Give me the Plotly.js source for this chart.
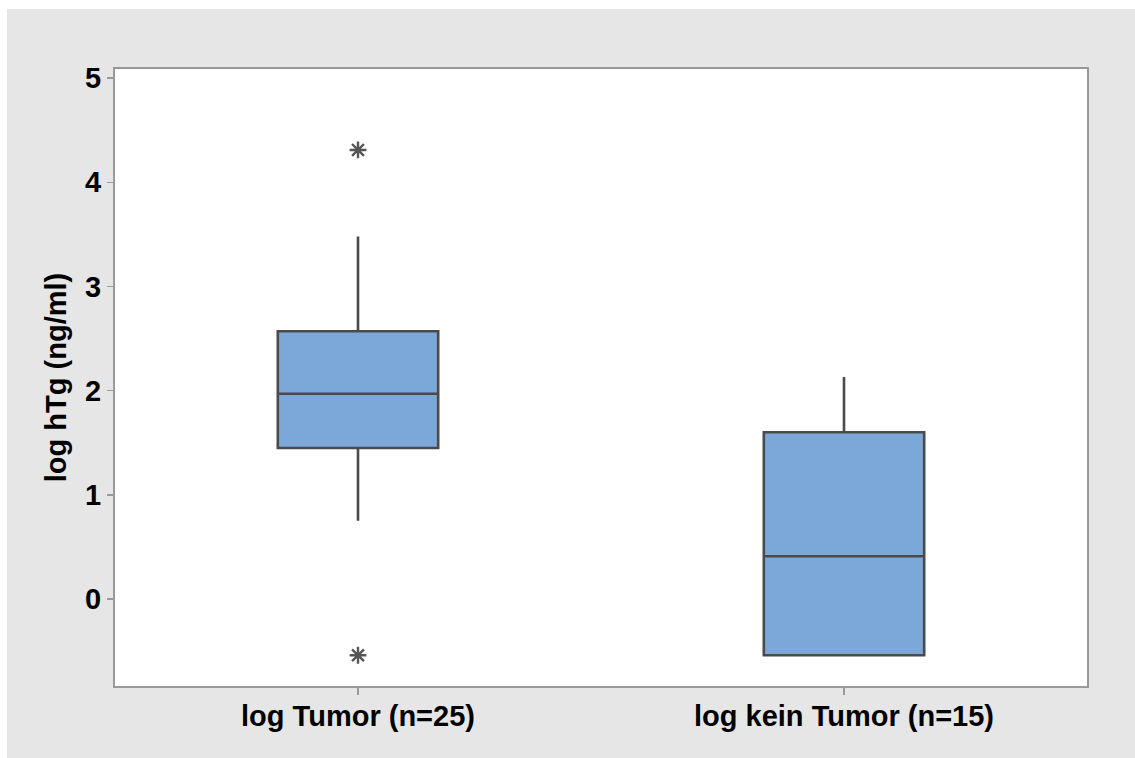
<!DOCTYPE html>
<html>
<head>
<meta charset="utf-8">
<script src="https://cdn.plot.ly/plotly-3.0.1.min.js"></script>
<style>
  html, body { margin: 0; padding: 0; background: #ffffff; }
  #chart { position: absolute; left: 7px; top: 9px; width: 1128px; height: 749px; }
</style>
</head>
<body>
<div id="chart"></div>
<script>
// Group labels
const groups = ['log Tumor (n=25)', 'log kein Tumor (n=15)'];

// Box statistics per group (log hTg, ng/ml)
const q1Values = [1.45, -0.54];
const medianValues = [1.97, 0.41];
const q3Values = [2.57, 1.60];
const lowerWhisker = [0.75, -0.54];
const upperWhisker = [3.48, 2.13];

// Outliers
const outlierGroups = ['log Tumor (n=25)', 'log Tumor (n=25)'];
const outlierValues = [4.31, -0.54];

const yTicks = [0, 1, 2, 3, 4, 5];

const fontFamily = '"Liberation Sans", Arial, sans-serif';
const labelFont = { family: fontFamily, size: 29, color: '#000000', weight: 'bold' };

const boxTrace = {
  type: 'box',
  x: groups,
  q1: q1Values,
  median: medianValues,
  q3: q3Values,
  lowerfence: lowerWhisker,
  upperfence: upperWhisker,
  boxpoints: false,
  width: 0.33,
  whiskerwidth: 0,
  fillcolor: '#7ca7d9',
  line: { color: '#4a4a4a', width: 2.6 },
  hoverinfo: 'skip',
  showlegend: false
};

const outlierTrace = {
  type: 'scatter',
  mode: 'markers',
  x: outlierGroups,
  y: outlierValues,
  marker: {
    symbol: 'asterisk-open',
    size: 14,
    color: '#555555',
    line: { color: '#555555', width: 2.4 }
  },
  hoverinfo: 'skip',
  showlegend: false
};

const layout = {
  width: 1128,
  height: 749,
  paper_bgcolor: '#e6e6e6',
  plot_bgcolor: '#ffffff',
  margin: { l: 108, r: 48, t: 60, b: 72 },
  showlegend: false,
  font: { family: fontFamily, color: '#000000' },
  xaxis: {
    type: 'category',
    categoryorder: 'array',
    categoryarray: groups,
    range: [-0.5, 1.5],
    showline: true,
    linecolor: '#999999',
    linewidth: 2,
    mirror: true,
    ticks: 'outside',
    ticklen: 7,
    tickwidth: 1.5,
    tickcolor: '#999999',
    showgrid: false,
    zeroline: false,
    ticklabelstandoff: -4,
    tickfont: labelFont
  },
  yaxis: {
    range: [-0.835, 5.087],
    tickvals: yTicks,
    ticktext: yTicks.map(String),
    showline: true,
    linecolor: '#999999',
    linewidth: 2,
    mirror: true,
    ticks: 'outside',
    ticklen: 6,
    tickwidth: 1.5,
    tickcolor: '#999999',
    showgrid: false,
    zeroline: false,
    tickfont: labelFont,
    title: {
      text: 'log hTg (ng/ml)',
      font: labelFont,
      standoff: 10
    }
  }
};

Plotly.newPlot('chart', [boxTrace, outlierTrace], layout, { displayModeBar: false, staticPlot: true });
</script>
</body>
</html>
